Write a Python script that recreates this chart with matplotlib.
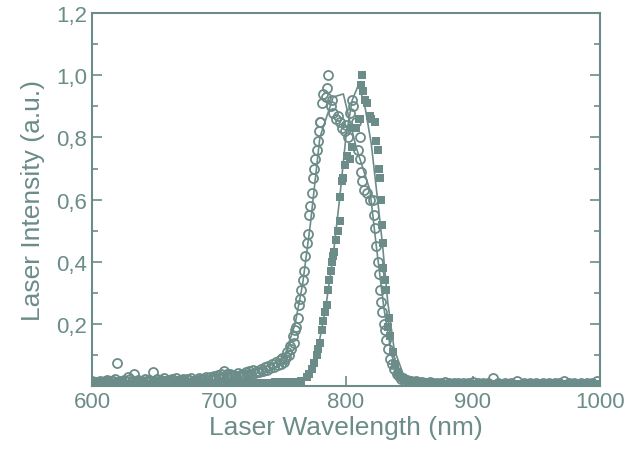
import numpy as np
import matplotlib
matplotlib.use("Agg")
import matplotlib.pyplot as plt
from matplotlib.ticker import MultipleLocator, FuncFormatter

C = "#6b8c88"

# open circles (first laser)
circ_x = [600, 603, 606, 609, 612, 615, 618, 620, 622, 625, 628, 630, 633, 636, 639, 642, 645, 648,
          651, 654, 657, 660, 663, 666, 669, 672, 675, 678, 681, 684, 687, 690, 693, 696, 699, 702,
          704, 706, 709, 712, 715, 718, 721, 724, 727, 730, 733, 736, 739, 742, 745, 748, 750, 752,
          754, 756, 758, 760, 761, 762, 763, 764, 765, 766, 767, 768, 769, 770, 771, 772, 773, 774,
          775, 776, 777, 778, 779, 779.5, 780, 781, 782, 784, 785, 786, 788, 789, 790, 792, 794, 795,
          797, 799, 800.5, 802, 803, 804.5, 806, 808, 809.5, 811, 811.5, 812, 813, 814, 817, 819,
          821, 822, 823, 824, 825, 826, 827, 828, 828.5, 830, 831, 832, 833, 834.6, 836, 838, 840,
          842, 845, 848, 851, 855, 860, 866, 872, 878, 885, 892, 900, 908, 916, 925, 935, 945, 955,
          965, 972, 980, 990, 998]
circ_y = [0.015, 0.012, 0.018, 0.014, 0.02, 0.016, 0.022, 0.075, 0.018, 0.02, 0.03, 0.022, 0.04, 0.02,
          0.018, 0.022, 0.02, 0.045, 0.022, 0.02, 0.025, 0.02, 0.022, 0.025, 0.02, 0.024, 0.022, 0.025,
          0.02, 0.026, 0.024, 0.028, 0.03, 0.032, 0.035, 0.04, 0.05, 0.038, 0.04, 0.036, 0.042, 0.04,
          0.045, 0.048, 0.052, 0.05, 0.055, 0.06, 0.065, 0.07, 0.078, 0.085, 0.09, 0.087, 0.11, 0.13,
          0.16, 0.18, 0.19, 0.22, 0.26, 0.28, 0.31, 0.34, 0.37, 0.42, 0.46, 0.49, 0.55, 0.58, 0.62,
          0.67, 0.70, 0.73, 0.76, 0.79, 0.82, 0.85, 0.85, 0.91, 0.94, 0.93, 0.96, 1.00, 0.90, 0.92,
          0.88, 0.86, 0.87, 0.85, 0.83, 0.82, 0.84, 0.80, 0.88, 0.92, 0.90, 0.85, 0.76, 0.80, 0.73,
          0.69, 0.66, 0.63, 0.62, 0.60, 0.60, 0.55, 0.51, 0.45, 0.40, 0.36, 0.31, 0.27, 0.24, 0.20,
          0.18, 0.15, 0.12, 0.087, 0.07, 0.055, 0.04, 0.032, 0.025, 0.02, 0.018, 0.015, 0.012, 0.012,
          0.01, 0.012, 0.01, 0.01, 0.012, 0.01, 0.025, 0.01, 0.015, 0.01, 0.01, 0.01, 0.015, 0.01,
          0.01, 0.015]

# extra circle readings along the dense baseline band
circ2_x = [601.5, 604.5, 607.5, 610.5, 613.5, 616.5, 619.5, 623.5, 626.5, 631.5, 634.5, 637.5,
           640.5, 643.5, 646.5, 649.5, 652.5, 655.5, 658.5, 661.5, 664.5, 667.5, 670.5, 673.5,
           676.5, 679.5, 682.5, 685.5, 688.5, 691.5, 694.5, 697.5, 700.5, 703, 707.5, 710.5,
           713.5, 716.5, 719.5, 722.5, 725.5, 728.5, 731.5, 734.5, 737.5, 740.5, 743.5, 746.5,
           749, 751, 753, 755, 757, 759, 843.5, 846.5, 849.5, 853, 857, 863, 869, 875, 881, 888,
           896, 904, 912, 920, 930, 940, 950, 960, 968, 976, 985, 994]
circ2_y = [0.01, 0.014, 0.012, 0.016, 0.013, 0.015, 0.012, 0.014, 0.016, 0.015, 0.013, 0.016,
           0.014, 0.017, 0.015, 0.013, 0.016, 0.018, 0.015, 0.017, 0.016, 0.018, 0.02, 0.017,
           0.019, 0.018, 0.02, 0.019, 0.022, 0.021, 0.024, 0.026, 0.028, 0.03, 0.03, 0.032,
           0.03, 0.034, 0.036, 0.038, 0.04, 0.042, 0.044, 0.048, 0.052, 0.058, 0.062, 0.068,
           0.072, 0.078, 0.095, 0.1, 0.12, 0.14, 0.022, 0.018, 0.015, 0.014, 0.012, 0.01, 0.01,
           0.009, 0.01, 0.009, 0.01, 0.009, 0.01, 0.009, 0.01, 0.009, 0.01, 0.009, 0.01, 0.009,
           0.01, 0.009]

# filled squares (second laser): left baseline, peak, right baseline
sqa_x = [600, 603, 606, 609, 612, 615, 618, 621,
         624, 627, 630, 633, 636, 639, 642, 645,
         648, 651, 654, 657, 660, 663, 666, 669,
         672, 675, 678, 681, 684, 687, 690, 693,
         696, 699, 702, 705, 708, 711, 714, 717,
         720, 723, 726, 729, 732, 735, 738, 741,
         744, 747, 750, 753, 756, 759, 762, 765]
sqa_y = [0.008, 0.007, 0.006, 0.008, 0.008, 0.007, 0.007, 0.008,
         0.009, 0.007, 0.008, 0.008, 0.006, 0.007, 0.008, 0.008,
         0.009, 0.008, 0.007, 0.008, 0.008, 0.009, 0.009, 0.008,
         0.008, 0.008, 0.007, 0.008, 0.009, 0.008, 0.008, 0.009,
         0.010, 0.009, 0.009, 0.010, 0.008, 0.009, 0.010, 0.010,
         0.009, 0.010, 0.010, 0.011, 0.011, 0.010, 0.010, 0.011,
         0.012, 0.012, 0.011, 0.012, 0.012, 0.013, 0.013, 0.015]
sqb_x = [769, 771, 773, 775, 777, 778, 779.5, 781, 782, 783.5,
         785, 786, 787, 788, 788.7, 790, 791, 792.6, 794, 795,
         795.5, 796.6, 797.6, 799, 801, 803, 804.5, 805, 808, 810,
         811, 812, 813, 813.5, 815, 817, 819, 820, 823, 824,
         825, 826, 827, 827.5, 828.5, 829, 829.5, 831, 832, 833,
         834, 835, 837, 839, 841, 843, 846]
sqb_y = [0.03, 0.04, 0.055, 0.075, 0.10, 0.12, 0.14, 0.18, 0.21, 0.24,
         0.26, 0.31, 0.34, 0.37, 0.40, 0.42, 0.43, 0.47, 0.50, 0.53,
         0.61, 0.66, 0.67, 0.71, 0.74, 0.73, 0.77, 0.83, 0.83, 0.86,
         0.86, 0.97, 1.00, 0.95, 0.92, 0.91, 0.87, 0.86, 0.85, 0.79,
         0.76, 0.70, 0.67, 0.60, 0.52, 0.46, 0.38, 0.34, 0.31, 0.19,
         0.22, 0.16, 0.11, 0.07, 0.045, 0.03, 0.02]
sqc_x = [850, 853, 857, 860, 864, 868, 872, 876, 880, 885,
         890, 895, 900, 905, 910, 915, 920, 925, 930, 935,
         940, 945, 950, 955, 960, 965, 970, 975, 980, 985,
         990, 995, 1000]
sqc_y = [0.012, 0.011, 0.010, 0.008, 0.008, 0.007, 0.008, 0.007, 0.006, 0.007,
         0.007, 0.006, 0.007, 0.006, 0.007, 0.006, 0.006, 0.007, 0.006, 0.007,
         0.006, 0.006, 0.007, 0.006, 0.006, 0.007, 0.006, 0.006, 0.006, 0.007,
         0.006, 0.006, 0.006]

# fitted curves
fit1_x = [600, 650, 700, 730, 745, 752, 760, 766, 772, 779.5, 790, 798, 808, 819, 824, 830, 836,
          842, 855, 1000]
fit1_y = [0.015, 0.015, 0.02, 0.03, 0.06, 0.10, 0.20, 0.33, 0.52, 0.80, 0.93, 0.94, 0.77, 0.63,
          0.45, 0.25, 0.10, 0.035, 0.015, 0.01]
fit2_x = [600, 740, 765, 772, 778, 784, 790, 795, 800, 805, 810, 815, 820, 825, 829, 833, 838,
          845, 855, 1000]
fit2_y = [0.01, 0.012, 0.02, 0.05, 0.12, 0.25, 0.42, 0.60, 0.80, 0.92, 0.97, 0.90, 0.78, 0.60,
          0.45, 0.27, 0.12, 0.04, 0.015, 0.01]

sq_x = sqa_x + sqb_x + sqc_x
sq_y = sqa_y + sqb_y + sqc_y

plt.rcParams["font.family"] = ["Liberation Sans", "DejaVu Sans"]

fig = plt.figure(figsize=(6.26, 4.56), dpi=100)
ax = fig.add_axes([0.147, 0.151, 0.811, 0.818])

ax.plot(sq_x, sq_y, "s", color=C, markersize=5.5, markeredgewidth=0)
ax.plot(circ_x, circ_y, "o", color=C, markerfacecolor="none", markersize=6.5, markeredgewidth=1.3)
ax.plot(circ2_x, circ2_y, "o", color=C, markerfacecolor="none", markersize=6.5, markeredgewidth=1.3)
ax.plot(fit1_x, fit1_y, "-", color=C, linewidth=1.2)
ax.plot(fit2_x, fit2_y, "-", color=C, linewidth=1.2)

ax.set_xlim(600, 1000)
ax.set_ylim(0, 1.2)
ax.xaxis.set_major_locator(MultipleLocator(100))
ax.xaxis.set_minor_locator(MultipleLocator(50))
ax.yaxis.set_major_locator(MultipleLocator(0.2))
ax.yaxis.set_minor_locator(MultipleLocator(0.1))
ax.yaxis.set_major_formatter(FuncFormatter(
    lambda v, p: "" if abs(v) < 1e-9 else f"{v:.1f}".replace(".", ",")))

ax.tick_params(which="both", direction="in", color=C, labelcolor=C, labelsize=16,
               left=True, right=True, bottom=True, top=False, width=1.2)
ax.tick_params(which="major", length=7)
ax.tick_params(which="minor", length=4)
for s in ax.spines.values():
    s.set_color(C)
    s.set_linewidth(1.5)

ax.set_xlabel("Laser Wavelength (nm)", fontsize=19, color=C, labelpad=2)
ax.set_ylabel("Laser Intensity (a.u.)", fontsize=19, color=C, labelpad=8)

fig.savefig("out.png", dpi=100)
